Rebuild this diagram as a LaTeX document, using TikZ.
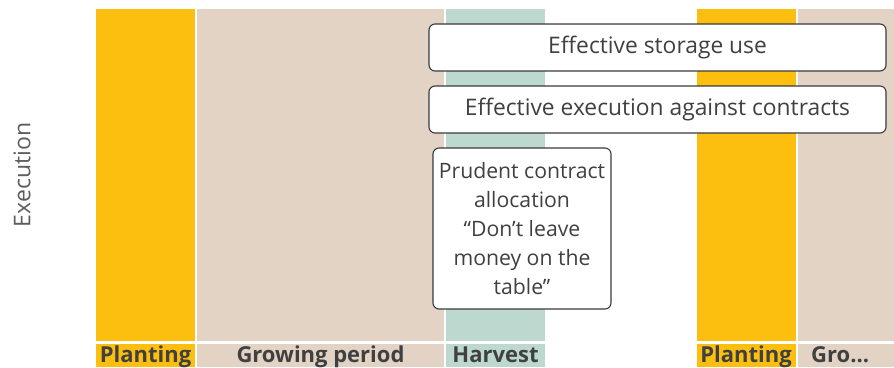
\documentclass[tikz,border=0pt]{standalone}
\usepackage{fontspec}
\setmainfont{Open Sans}[Ligatures=NoCommon]
\definecolor{cyellow}{HTML}{FCBF10}
\definecolor{cbeige}{HTML}{E2D3C4}
\definecolor{cgreen}{HTML}{BDD8CE}
\definecolor{ctext}{HTML}{404040}
\definecolor{cedge}{HTML}{3A3A3A}
\tikzset{
  lbl/.style={font=\fontsize{22}{24}\selectfont\bfseries, text=ctext, anchor=base, inner sep=0pt},
  card/.style={draw=cedge, line width=1.1pt, fill=white, rounded corners=6pt},
  cardtext/.style={font=\fontsize{22.8}{29}\selectfont, text=ctext, inner sep=0pt, align=center},
  talltext/.style={font=\fontsize{21.2}{29}\selectfont, text=ctext, inner sep=0pt, align=center}
}
\begin{document}
\begin{tikzpicture}[x=1pt,y=-1pt]
\useasboundingbox (0,0) rectangle (894,367);
% columns
\fill[cyellow] (96,9) rectangle (195,341);
\fill[cyellow] (96,344) rectangle (195,367);
\fill[cbeige] (197,9) rectangle (444,341);
\fill[cbeige] (197,344) rectangle (444,367);
\fill[cgreen] (446,9) rectangle (545,341);
\fill[cgreen] (446,344) rectangle (545,367);
\fill[cyellow] (697,9) rectangle (796,341);
\fill[cyellow] (697,344) rectangle (796,367);
\fill[cbeige] (798,9) rectangle (894,341);
\fill[cbeige] (798,344) rectangle (894,367);
% labels
\node[lbl] (l1) at (145.5,362) {Planting};
\node[lbl] (l2) at (320.5,362) {Growing period};
\node[lbl] (l3) at (495.5,362) {Harvest};
\node[lbl] (l4) at (746,362) {Planting};
\node[lbl, anchor=base west] (l5) at (811,362) {Gro...};
% axis label
\node[font=\fontsize{23}{26}\selectfont, text=ctext!85, rotate=90] (ax) at (22,175) {Execution};
% cards
\draw[card] (429,24) rectangle (886,71);
\node[cardtext] (c1) at (657.5,47.5) {Effective storage use};
\draw[card] (429,86) rectangle (886,133);
\node[cardtext] (c2) at (657.5,109.5) {Effective execution against contracts};
\draw[card] (433,148) rectangle (611,309);
\node[talltext] (c3) at (522,228.5) {Prudent contract\\allocation\\“Don’t leave\\money on the\\table”};
\end{tikzpicture}
\end{document}
